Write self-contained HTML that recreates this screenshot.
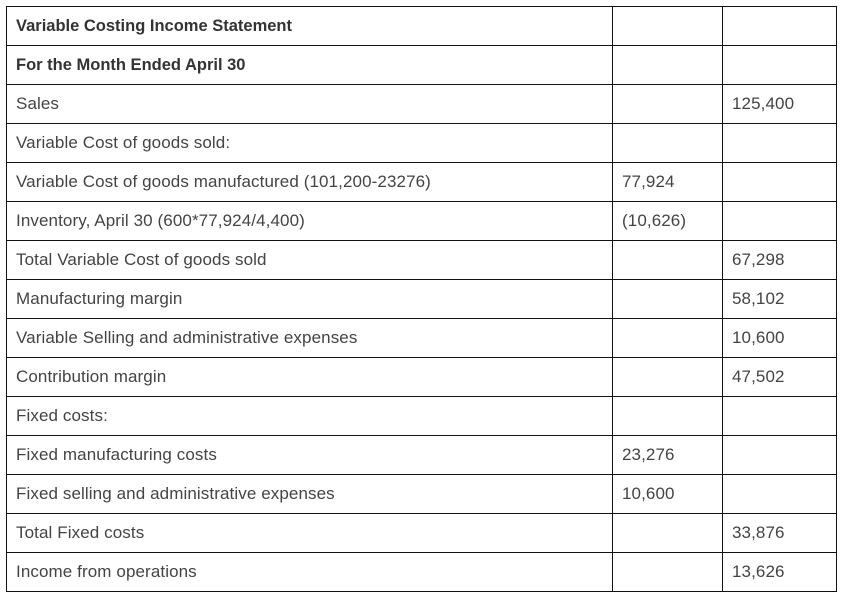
<!DOCTYPE html>
<html>
<head>
<meta charset="utf-8">
<style>
  html, body { margin:0; padding:0; background:#fff; }
  body { width:843px; height:596px; position:relative; overflow:hidden;
         font-family:"Liberation Sans", Arial, sans-serif; color:#444; }
  .h { position:absolute; left:6px; width:831px; height:1px; background:#111; }
  .v { position:absolute; top:6px; height:586px; width:1px; background:#111; }
  .t { position:absolute; height:39px; line-height:40px; font-size:17px; white-space:nowrap; letter-spacing:0.1px; }
  .b { font-weight:bold; color:#333; font-size:16.5px; letter-spacing:0; }
</style>
</head>
<body>
<!-- horizontal lines -->
<div class="h" style="top:6px"></div>
<div class="h" style="top:45px"></div>
<div class="h" style="top:84px"></div>
<div class="h" style="top:123px"></div>
<div class="h" style="top:162px"></div>
<div class="h" style="top:201px"></div>
<div class="h" style="top:240px"></div>
<div class="h" style="top:279px"></div>
<div class="h" style="top:318px"></div>
<div class="h" style="top:357px"></div>
<div class="h" style="top:396px"></div>
<div class="h" style="top:435px"></div>
<div class="h" style="top:474px"></div>
<div class="h" style="top:513px"></div>
<div class="h" style="top:552px"></div>
<div class="h" style="top:591px"></div>
<!-- vertical lines -->
<div class="v" style="left:6px"></div>
<div class="v" style="left:612px"></div>
<div class="v" style="left:722px"></div>
<div class="v" style="left:836px"></div>

<!-- column 1 -->
<div class="t b" style="left:16px;top:6px">Variable Costing Income Statement</div>
<div class="t b" style="left:16px;top:45px">For the Month Ended April 30</div>
<div class="t" style="left:16px;top:84px">Sales</div>
<div class="t" style="left:16px;top:123px">Variable Cost of goods sold:</div>
<div class="t" style="left:16px;top:162px">Variable Cost of goods manufactured (101,200-23276)</div>
<div class="t" style="left:16px;top:201px">Inventory, April 30 (600*77,924/4,400)</div>
<div class="t" style="left:16px;top:240px">Total Variable Cost of goods sold</div>
<div class="t" style="left:16px;top:279px">Manufacturing margin</div>
<div class="t" style="left:16px;top:318px">Variable Selling and administrative expenses</div>
<div class="t" style="left:16px;top:357px">Contribution margin</div>
<div class="t" style="left:16px;top:396px">Fixed costs:</div>
<div class="t" style="left:16px;top:435px">Fixed manufacturing costs</div>
<div class="t" style="left:16px;top:474px">Fixed selling and administrative expenses</div>
<div class="t" style="left:16px;top:513px">Total Fixed costs</div>
<div class="t" style="left:16px;top:552px">Income from operations</div>

<!-- column 2 -->
<div class="t" style="left:622px;top:162px">77,924</div>
<div class="t" style="left:622px;top:201px">(10,626)</div>
<div class="t" style="left:622px;top:435px">23,276</div>
<div class="t" style="left:622px;top:474px">10,600</div>

<!-- column 3 -->
<div class="t" style="left:732px;top:84px">125,400</div>
<div class="t" style="left:732px;top:240px">67,298</div>
<div class="t" style="left:732px;top:279px">58,102</div>
<div class="t" style="left:732px;top:318px">10,600</div>
<div class="t" style="left:732px;top:357px">47,502</div>
<div class="t" style="left:732px;top:513px">33,876</div>
<div class="t" style="left:732px;top:552px">13,626</div>
</body>
</html>
